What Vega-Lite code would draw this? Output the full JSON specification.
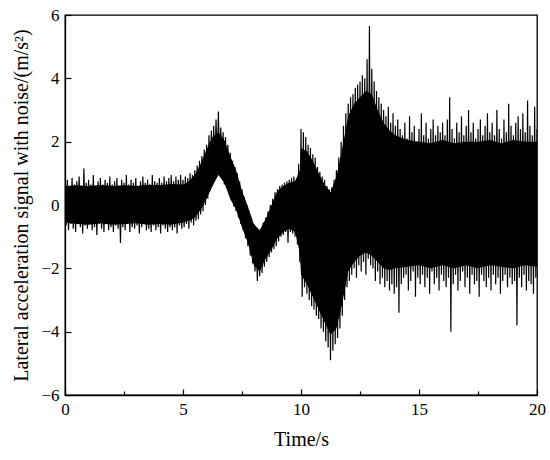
{
  "$schema": "https://vega.github.io/schema/vega-lite/v6.json",
  "autosize": {"type": "none"},
  "width": 472,
  "height": 380,
  "padding": {"left": 65, "top": 15, "right": 13, "bottom": 65},
  "background": "white",
  "config": {
    "view": {"stroke": "black", "strokeWidth": 1.3},
    "axis": {
      "labelFont": "Liberation Serif", "titleFont": "Liberation Serif",
      "labelFontSize": 17, "titleFontSize": 20, "titleFontWeight": "normal",
      "labelColor": "black", "titleColor": "black",
      "domainColor": "black", "domainWidth": 1.3, "tickColor": "black", "tickWidth": 1.2,
      "grid": false
    }
  },
  "datasets": {
    "core": [
{"t":0,"lo":-0.55,"hi":0.6},{"t":0.5,"lo":-0.6,"hi":0.62},{"t":1,"lo":-0.62,"hi":0.6},{"t":1.5,"lo":-0.58,"hi":0.63},{"t":2,"lo":-0.62,"hi":0.6},{"t":2.5,"lo":-0.6,"hi":0.62},{"t":3,"lo":-0.58,"hi":0.6},{"t":3.5,"lo":-0.62,"hi":0.64},{"t":4,"lo":-0.6,"hi":0.62},{"t":4.5,"lo":-0.62,"hi":0.66},
{"t":5,"lo":-0.55,"hi":0.65},{"t":5.25,"lo":-0.5,"hi":0.75},{"t":5.5,"lo":-0.4,"hi":0.95},{"t":5.75,"lo":-0.15,"hi":1.3},{"t":6,"lo":0.2,"hi":1.75},{"t":6.25,"lo":0.6,"hi":2.15},{"t":6.5,"lo":0.95,"hi":2.3},{"t":6.75,"lo":0.7,"hi":2.05},
{"t":7,"lo":0.2,"hi":1.55},{"t":7.25,"lo":-0.15,"hi":1.1},{"t":7.5,"lo":-0.7,"hi":0.45},{"t":7.75,"lo":-1.2,"hi":-0.05},{"t":8,"lo":-1.9,"hi":-0.6},{"t":8.25,"lo":-2.1,"hi":-0.8},{"t":8.5,"lo":-1.7,"hi":-0.45},{"t":8.75,"lo":-1.4,"hi":0.0},
{"t":9,"lo":-1.05,"hi":0.45},{"t":9.25,"lo":-0.85,"hi":0.6},{"t":9.5,"lo":-0.75,"hi":0.7},{"t":9.75,"lo":-0.85,"hi":0.75},{"t":9.95,"lo":-1.5,"hi":1.1},{"t":10,"lo":-2.2,"hi":1.8},{"t":10.25,"lo":-2.5,"hi":1.7},{"t":10.5,"lo":-2.9,"hi":1.4},{"t":10.75,"lo":-3.3,"hi":1.0},
{"t":11,"lo":-3.7,"hi":0.65},{"t":11.25,"lo":-4.1,"hi":0.4},{"t":11.5,"lo":-3.9,"hi":0.9},{"t":11.75,"lo":-3.1,"hi":1.8},{"t":12,"lo":-2.1,"hi":2.8},{"t":12.25,"lo":-1.8,"hi":3.2},{"t":12.5,"lo":-1.6,"hi":3.4},{"t":12.75,"lo":-1.5,"hi":3.6},
{"t":13,"lo":-1.6,"hi":3.5},{"t":13.25,"lo":-1.8,"hi":3.0},{"t":13.5,"lo":-2.0,"hi":2.6},{"t":13.75,"lo":-2.05,"hi":2.35},{"t":14,"lo":-2.0,"hi":2.2},{"t":14.5,"lo":-1.95,"hi":2.05},{"t":15,"lo":-1.9,"hi":2.0},{"t":15.5,"lo":-2.0,"hi":1.95},
{"t":16,"lo":-1.9,"hi":2.05},{"t":16.5,"lo":-2.0,"hi":1.95},{"t":17,"lo":-1.9,"hi":2.0},{"t":17.5,"lo":-2.0,"hi":2.0},{"t":18,"lo":-1.9,"hi":2.05},{"t":18.5,"lo":-1.95,"hi":1.95},{"t":19,"lo":-2.0,"hi":2.05},{"t":19.5,"lo":-1.9,"hi":2.0},{"t":20,"lo":-1.95,"hi":2.0}
    ],
    "sig": [
{"t":0.00,"a":0.7},{"t":0.05,"a":-0.65},{"t":0.10,"a":0.8},{"t":0.15,"a":-0.8},{"t":0.20,"a":0.6},{"t":0.25,"a":-0.6},{"t":0.30,"a":0.85},{"t":0.35,"a":-0.75},{"t":0.40,"a":0.65},{"t":0.45,"a":-0.85},
{"t":0.50,"a":0.75},{"t":0.55,"a":-0.6},{"t":0.60,"a":0.9},{"t":0.65,"a":-0.7},{"t":0.70,"a":0.6},{"t":0.75,"a":-0.9},{"t":0.80,"a":1.15},{"t":0.85,"a":-0.65},{"t":0.90,"a":0.7},{"t":0.95,"a":-0.75},
{"t":1.00,"a":0.8},{"t":1.05,"a":-0.55},{"t":1.10,"a":0.65},{"t":1.15,"a":-0.8},{"t":1.20,"a":0.95},{"t":1.25,"a":-0.7},{"t":1.30,"a":0.6},{"t":1.35,"a":-0.95},{"t":1.40,"a":0.75},{"t":1.45,"a":-0.6},
{"t":1.50,"a":0.85},{"t":1.55,"a":-0.75},{"t":1.60,"a":0.65},{"t":1.65,"a":-0.85},{"t":1.70,"a":0.8},{"t":1.75,"a":-0.6},{"t":1.80,"a":0.7},{"t":1.85,"a":-0.8},{"t":1.90,"a":0.9},{"t":1.95,"a":-0.7},
{"t":2.00,"a":0.65},{"t":2.05,"a":-0.85},{"t":2.10,"a":0.75},{"t":2.15,"a":-0.65},{"t":2.20,"a":0.85},{"t":2.25,"a":-0.75},{"t":2.30,"a":0.6},{"t":2.35,"a":-1.2},{"t":2.40,"a":0.8},{"t":2.45,"a":-0.7},
{"t":2.50,"a":0.7},{"t":2.55,"a":-0.8},{"t":2.60,"a":0.95},{"t":2.65,"a":-0.6},{"t":2.70,"a":0.65},{"t":2.75,"a":-0.85},{"t":2.80,"a":0.8},{"t":2.85,"a":-0.7},{"t":2.90,"a":0.7},{"t":2.95,"a":-0.75},
{"t":3.00,"a":0.85},{"t":3.05,"a":-0.65},{"t":3.10,"a":0.6},{"t":3.15,"a":-0.9},{"t":3.20,"a":0.75},{"t":3.25,"a":-0.7},{"t":3.30,"a":0.9},{"t":3.35,"a":-0.6},{"t":3.40,"a":0.7},{"t":3.45,"a":-0.8},
{"t":3.50,"a":0.8},{"t":3.55,"a":-0.75},{"t":3.60,"a":0.65},{"t":3.65,"a":-0.85},{"t":3.70,"a":0.95},{"t":3.75,"a":-0.65},{"t":3.80,"a":0.75},{"t":3.85,"a":-0.8},{"t":3.90,"a":0.7},{"t":3.95,"a":-0.7},
{"t":4.00,"a":0.85},{"t":4.05,"a":-0.9},{"t":4.10,"a":0.7},{"t":4.15,"a":-0.65},{"t":4.20,"a":0.9},{"t":4.25,"a":-0.75},{"t":4.30,"a":0.75},{"t":4.35,"a":-0.85},{"t":4.40,"a":0.85},{"t":4.45,"a":-0.7},
{"t":4.50,"a":0.95},{"t":4.55,"a":-0.8},{"t":4.60,"a":0.75},{"t":4.65,"a":-0.7},{"t":4.70,"a":0.9},{"t":4.75,"a":-0.9},{"t":4.80,"a":0.8},{"t":4.85,"a":-0.65},{"t":4.90,"a":0.95},{"t":4.95,"a":-0.75},
{"t":5.00,"a":0.8},{"t":5.05,"a":-0.7},{"t":5.10,"a":0.9},{"t":5.15,"a":-0.6},{"t":5.20,"a":0.85},{"t":5.25,"a":-0.75},{"t":5.30,"a":1.0},{"t":5.35,"a":-0.55},{"t":5.40,"a":0.95},{"t":5.45,"a":-0.65},
{"t":5.50,"a":1.1},{"t":5.55,"a":-0.5},{"t":5.60,"a":1.25},{"t":5.65,"a":-0.45},{"t":5.70,"a":1.4},{"t":5.75,"a":-0.3},{"t":5.80,"a":1.55},{"t":5.85,"a":-0.2},{"t":5.90,"a":1.75},{"t":5.95,"a":0.0},
{"t":6.00,"a":1.9},{"t":6.05,"a":0.2},{"t":6.10,"a":2.2},{"t":6.15,"a":0.45},{"t":6.20,"a":2.35},{"t":6.25,"a":0.6},{"t":6.30,"a":2.5},{"t":6.35,"a":0.9},{"t":6.40,"a":2.7},{"t":6.45,"a":1.05},
{"t":6.50,"a":2.95},{"t":6.55,"a":0.95},{"t":6.60,"a":2.45},{"t":6.65,"a":0.85},{"t":6.70,"a":2.3},{"t":6.75,"a":0.65},{"t":6.80,"a":2.15},{"t":6.85,"a":0.55},{"t":6.90,"a":1.9},{"t":6.95,"a":0.35},
{"t":7.00,"a":1.65},{"t":7.05,"a":0.15},{"t":7.10,"a":1.4},{"t":7.15,"a":-0.05},{"t":7.20,"a":1.2},{"t":7.25,"a":-0.2},{"t":7.30,"a":1.0},{"t":7.35,"a":-0.4},{"t":7.40,"a":0.75},{"t":7.45,"a":-0.6},
{"t":7.50,"a":0.5},{"t":7.55,"a":-0.8},{"t":7.60,"a":0.25},{"t":7.65,"a":-1.05},{"t":7.70,"a":0.0},{"t":7.75,"a":-1.3},{"t":7.80,"a":-0.2},{"t":7.85,"a":-1.6},{"t":7.90,"a":-0.4},{"t":7.95,"a":-1.85},
{"t":8.00,"a":-0.6},{"t":8.05,"a":-2.1},{"t":8.10,"a":-0.8},{"t":8.15,"a":-2.4},{"t":8.20,"a":-0.85},{"t":8.25,"a":-2.25},{"t":8.30,"a":-0.75},{"t":8.35,"a":-2.15},{"t":8.40,"a":-0.55},{"t":8.45,"a":-1.95},
{"t":8.50,"a":-0.4},{"t":8.55,"a":-1.8},{"t":8.60,"a":-0.2},{"t":8.65,"a":-1.65},{"t":8.70,"a":0.0},{"t":8.75,"a":-1.5},{"t":8.80,"a":0.2},{"t":8.85,"a":-1.4},{"t":8.90,"a":0.4},{"t":8.95,"a":-1.3},
{"t":9.00,"a":0.5},{"t":9.05,"a":-1.15},{"t":9.10,"a":0.6},{"t":9.15,"a":-1.0},{"t":9.20,"a":0.65},{"t":9.25,"a":-0.95},{"t":9.30,"a":0.7},{"t":9.35,"a":-0.85},{"t":9.40,"a":0.75},{"t":9.45,"a":-1.2},
{"t":9.50,"a":0.8},{"t":9.55,"a":-0.85},{"t":9.60,"a":0.85},{"t":9.65,"a":-0.9},{"t":9.70,"a":0.9},{"t":9.75,"a":-1.0},{"t":9.80,"a":0.8},{"t":9.85,"a":-1.25},{"t":9.90,"a":1.3},{"t":9.95,"a":-1.8},
{"t":10.00,"a":2.4},{"t":10.05,"a":-2.9},{"t":10.10,"a":2.3},{"t":10.15,"a":-2.6},{"t":10.20,"a":2.15},{"t":10.25,"a":-2.8},{"t":10.30,"a":1.9},{"t":10.35,"a":-3.0},{"t":10.40,"a":1.8},{"t":10.45,"a":-3.2},
{"t":10.50,"a":1.6},{"t":10.55,"a":-3.3},{"t":10.60,"a":1.5},{"t":10.65,"a":-3.5},{"t":10.70,"a":1.2},{"t":10.75,"a":-3.6},{"t":10.80,"a":1.05},{"t":10.85,"a":-3.9},{"t":10.90,"a":0.9},{"t":10.95,"a":-4.0},
{"t":11.00,"a":0.8},{"t":11.05,"a":-4.3},{"t":11.10,"a":0.6},{"t":11.15,"a":-4.5},{"t":11.20,"a":0.5},{"t":11.25,"a":-4.9},{"t":11.30,"a":0.55},{"t":11.35,"a":-4.6},{"t":11.40,"a":0.8},{"t":11.45,"a":-4.4},
{"t":11.50,"a":1.1},{"t":11.55,"a":-4.2},{"t":11.60,"a":1.5},{"t":11.65,"a":-3.9},{"t":11.70,"a":2.0},{"t":11.75,"a":-3.5},{"t":11.80,"a":2.5},{"t":11.85,"a":-3.0},{"t":11.90,"a":2.9},{"t":11.95,"a":-2.6},
{"t":12.00,"a":3.2},{"t":12.05,"a":-2.4},{"t":12.10,"a":3.4},{"t":12.15,"a":-2.2},{"t":12.20,"a":3.5},{"t":12.25,"a":-2.0},{"t":12.30,"a":3.7},{"t":12.35,"a":-2.3},{"t":12.40,"a":3.8},{"t":12.45,"a":-1.9},
{"t":12.50,"a":3.9},{"t":12.55,"a":-2.1},{"t":12.60,"a":4.1},{"t":12.65,"a":-1.8},{"t":12.70,"a":4.0},{"t":12.75,"a":-2.2},{"t":12.80,"a":4.6},{"t":12.85,"a":-1.7},{"t":12.90,"a":5.65},{"t":12.95,"a":-1.9},
{"t":13.00,"a":4.3},{"t":13.05,"a":-2.0},{"t":13.10,"a":3.9},{"t":13.15,"a":-2.4},{"t":13.20,"a":3.6},{"t":13.25,"a":-2.1},{"t":13.30,"a":3.4},{"t":13.35,"a":-2.5},{"t":13.40,"a":3.2},{"t":13.45,"a":-2.3},
{"t":13.50,"a":3.0},{"t":13.55,"a":-2.6},{"t":13.60,"a":2.8},{"t":13.65,"a":-2.4},{"t":13.70,"a":3.1},{"t":13.75,"a":-2.7},{"t":13.80,"a":2.6},{"t":13.85,"a":-2.5},{"t":13.90,"a":2.9},{"t":13.95,"a":-2.8},
{"t":14.00,"a":2.5},{"t":14.05,"a":-2.6},{"t":14.10,"a":2.7},{"t":14.15,"a":-3.4},{"t":14.20,"a":2.4},{"t":14.25,"a":-2.5},{"t":14.30,"a":2.2},{"t":14.35,"a":-2.3},{"t":14.40,"a":2.6},{"t":14.45,"a":-2.2},
{"t":14.50,"a":2.1},{"t":14.55,"a":-2.7},{"t":14.60,"a":2.8},{"t":14.65,"a":-2.4},{"t":14.70,"a":2.3},{"t":14.75,"a":-2.1},{"t":14.80,"a":2.5},{"t":14.85,"a":-2.9},{"t":14.90,"a":2.0},{"t":14.95,"a":-2.3},
{"t":15.00,"a":2.4},{"t":15.05,"a":-2.5},{"t":15.10,"a":2.9},{"t":15.15,"a":-2.2},{"t":15.20,"a":2.2},{"t":15.25,"a":-2.6},{"t":15.30,"a":2.6},{"t":15.35,"a":-2.3},{"t":15.40,"a":2.1},{"t":15.45,"a":-2.8},
{"t":15.50,"a":2.4},{"t":15.55,"a":-2.1},{"t":15.60,"a":2.7},{"t":15.65,"a":-2.5},{"t":15.70,"a":2.2},{"t":15.75,"a":-2.3},{"t":15.80,"a":2.5},{"t":15.85,"a":-2.7},{"t":15.90,"a":2.3},{"t":15.95,"a":-2.2},
{"t":16.00,"a":2.6},{"t":16.05,"a":-2.4},{"t":16.10,"a":2.2},{"t":16.15,"a":-2.6},{"t":16.20,"a":2.7},{"t":16.25,"a":-2.3},{"t":16.30,"a":3.4},{"t":16.35,"a":-4.0},{"t":16.40,"a":2.4},{"t":16.45,"a":-2.5},
{"t":16.50,"a":2.1},{"t":16.55,"a":-2.2},{"t":16.60,"a":2.6},{"t":16.65,"a":-2.7},{"t":16.70,"a":2.3},{"t":16.75,"a":-2.4},{"t":16.80,"a":2.8},{"t":16.85,"a":-2.1},{"t":16.90,"a":2.2},{"t":16.95,"a":-2.6},
{"t":17.00,"a":2.5},{"t":17.05,"a":-2.3},{"t":17.10,"a":3.0},{"t":17.15,"a":-2.8},{"t":17.20,"a":2.3},{"t":17.25,"a":-2.2},{"t":17.30,"a":2.6},{"t":17.35,"a":-2.5},{"t":17.40,"a":2.1},{"t":17.45,"a":-2.4},
{"t":17.50,"a":2.4},{"t":17.55,"a":-2.9},{"t":17.60,"a":2.7},{"t":17.65,"a":-2.2},{"t":17.70,"a":2.2},{"t":17.75,"a":-2.4},{"t":17.80,"a":2.5},{"t":17.85,"a":-2.6},{"t":17.90,"a":2.9},{"t":17.95,"a":-2.3},
{"t":18.00,"a":2.3},{"t":18.05,"a":-2.7},{"t":18.10,"a":2.6},{"t":18.15,"a":-2.2},{"t":18.20,"a":2.2},{"t":18.25,"a":-2.5},{"t":18.30,"a":3.0},{"t":18.35,"a":-2.3},{"t":18.40,"a":2.4},{"t":18.45,"a":-2.8},
{"t":18.50,"a":2.1},{"t":18.55,"a":-2.4},{"t":18.60,"a":2.7},{"t":18.65,"a":-2.2},{"t":18.70,"a":2.3},{"t":18.75,"a":-2.6},{"t":18.80,"a":3.2},{"t":18.85,"a":-2.3},{"t":18.90,"a":2.5},{"t":18.95,"a":-2.5},
{"t":19.00,"a":2.2},{"t":19.05,"a":-2.4},{"t":19.10,"a":2.6},{"t":19.15,"a":-3.8},{"t":19.20,"a":2.8},{"t":19.25,"a":-2.3},{"t":19.30,"a":2.4},{"t":19.35,"a":-2.6},{"t":19.40,"a":2.9},{"t":19.45,"a":-2.2},
{"t":19.50,"a":2.3},{"t":19.55,"a":-2.7},{"t":19.60,"a":3.3},{"t":19.65,"a":-2.4},{"t":19.70,"a":2.5},{"t":19.75,"a":-2.5},{"t":19.80,"a":2.2},{"t":19.85,"a":-2.8},{"t":19.90,"a":3.1},{"t":19.95,"a":-2.3},
{"t":20.00,"a":2.4}
    ]
  },
  "encoding": {
    "x": {
      "field": "t", "type": "quantitative",
      "scale": {"domain": [0, 20], "nice": false, "zero": false},
      "axis": {
        "title": "Time/s", "titlePadding": 12,
        "values": [0, 2.5, 5, 7.5, 10, 12.5, 15, 17.5, 20],
        "labelExpr": "datum.value % 5 === 0 ? datum.label : ''",
        "tickSize": {"condition": {"test": "datum.value % 5 === 0", "value": -6}, "value": -4},
        "labelPadding": 12,
        "labelFlush": false
      }
    }
  },
  "layer": [
    {
      "data": {"name": "core"},
      "mark": {"type": "area", "color": "black", "clip": true},
      "encoding": {
        "y": {
          "field": "lo", "type": "quantitative",
          "scale": {"domain": [-6, 6], "nice": false, "zero": false},
          "axis": {
            "title": "Lateral acceleration signal with noise/(m/s²)", "titlePadding": 9,
            "values": [-6, -5, -4, -3, -2, -1, 0, 1, 2, 3, 4, 5, 6],
            "labelExpr": "datum.value % 2 === 0 ? datum.label : ''",
            "tickSize": {"condition": {"test": "datum.value % 2 === 0", "value": -6}, "value": -4},
            "labelPadding": 12,
            "labelFlush": false
          }
        },
        "y2": {"field": "hi"}
      }
    },
    {
      "data": {"name": "sig"},
      "mark": {"type": "line", "color": "black", "strokeWidth": 1.2, "clip": true},
      "encoding": {
        "y": {"field": "a", "type": "quantitative"}
      }
    }
  ]
}
